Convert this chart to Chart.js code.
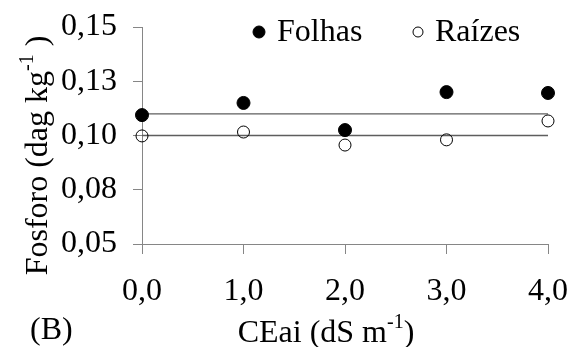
<!DOCTYPE html>
<html>
<head>
<meta charset="utf-8">
<script src="https://cdn.jsdelivr.net/npm/chart.js@4.4.1/dist/chart.umd.min.js"></script>
<style>
  body { margin: 0; background: #fff; }
  canvas { display: block; }
</style>
</head>
<body>
<canvas id="fosforoChart" width="570" height="347"></canvas>
<script>
// data
const ceai = [0, 1, 2, 3, 4];
const folhas = [0.1094, 0.1150, 0.1025, 0.1200, 0.1196];
const raizes = [0.0998, 0.1016, 0.0956, 0.0980, 0.1067];
const folhasFit = [0.110, 0.110];
const raizesFit = [0.100, 0.100];
const fitX = [0, 4];
const xTickLabels = ["0,0", "1,0", "2,0", "3,0", "4,0"];
const yTickLabels = ["0,05", "0,08", "0,10", "0,13", "0,15"];

const FONT = "'Liberation Serif', 'Times New Roman', serif";
const AXIS_GRAY = "#868686";

/* -------------------------------
   helpers
--------------------------------*/
function points(xs, ys) {
  return xs.map((x, i) => ({ x: x, y: ys[i] }));
}

// draws text pieces, some raised as superscript, centred on (0,0)
function drawRich(ctx, parts, size) {
  const supSize = Math.round(size * 0.62);
  let total = 0;
  parts.forEach(p => {
    ctx.font = (p.sup ? supSize : size) + "px " + FONT;
    p.w = ctx.measureText(p.t).width;
    total += p.w;
  });
  let x = -total / 2;
  ctx.textAlign = "left";
  ctx.textBaseline = "alphabetic";
  parts.forEach(p => {
    ctx.font = (p.sup ? supSize : size) + "px " + FONT;
    ctx.fillText(p.t, x, p.sup ? -size * 0.1 : size * 0.33);
    x += p.w;
  });
}

/* -------------------------------
   titles + legend plugin
--------------------------------*/
const decorations = {
  id: "decorations",
  afterDraw(chart) {
    const ctx = chart.ctx;
    const area = chart.chartArea;
    ctx.save();
    ctx.fillStyle = "#000";

    // y title
    ctx.save();
    ctx.translate(36, (area.top + area.bottom) / 2 + 20);
    ctx.rotate(-Math.PI / 2);
    drawRich(ctx, [
      { t: "Fosforo (dag kg" },
      { t: "-1", sup: true },
      { t: " )" }
    ], 32);
    ctx.restore();

    // x title
    ctx.save();
    ctx.translate(326, 331);
    drawRich(ctx, [
      { t: "CEai (dS m" },
      { t: "-1", sup: true },
      { t: ")" }
    ], 32);
    ctx.restore();

    // panel letter
    ctx.font = "32px " + FONT;
    ctx.textAlign = "left";
    ctx.textBaseline = "middle";
    ctx.fillText("(B)", 30, 331);

    // legend
    const items = [
      { ds: chart.data.datasets[0], mx: area.left + 117, r: 6 },
      { ds: chart.data.datasets[1], mx: area.left + 276, r: 5 }
    ];
    const ly = area.top + 5;
    items.forEach(it => {
      ctx.beginPath();
      ctx.arc(it.mx, ly, it.r, 0, Math.PI * 2);
      ctx.fillStyle = it.ds.backgroundColor;
      ctx.fill();
      ctx.lineWidth = 1;
      ctx.strokeStyle = it.ds.borderColor;
      ctx.stroke();
      ctx.fillStyle = "#000";
      ctx.font = "32px " + FONT;
      ctx.textBaseline = "middle";
      ctx.fillText(it.ds.label, it.mx + it.r + 12, ly + 1);
    });
    ctx.restore();
  }
};

/* -------------------------------
   chart
--------------------------------*/
const tickFont = { family: FONT, size: 32 };

new Chart(document.getElementById("fosforoChart"), {
  type: "scatter",
  data: {
    datasets: [
      {
        label: "Folhas",
        data: points(ceai, folhas),
        backgroundColor: "#000",
        borderColor: "#000",
        pointRadius: 6.5,
        order: 1,
        clip: false
      },
      {
        label: "Raízes",
        data: points(ceai, raizes),
        backgroundColor: "rgba(0,0,0,0)",
        borderColor: "#000",
        borderWidth: 1,
        pointRadius: 6,
        order: 1,
        clip: false
      },
      {
        type: "line",
        label: "Folhas fit",
        data: points(fitX, folhasFit),
        borderColor: "#5e5e5e",
        borderWidth: 1.3,
        pointRadius: 0,
        order: 2
      },
      {
        type: "line",
        label: "Raízes fit",
        data: points(fitX, raizesFit),
        borderColor: "#5e5e5e",
        borderWidth: 1.3,
        pointRadius: 0,
        order: 2
      }
    ]
  },
  options: {
    responsive: false,
    animation: false,
    devicePixelRatio: 1,
    layout: { padding: { left: 0, right: 22, top: 27, bottom: 0 } },
    plugins: {
      legend: { display: false },
      tooltip: { enabled: false }
    },
    scales: {
      x: {
        type: "linear",
        min: 0,
        max: 4,
        afterFit: scale => {
          scale.height = 103;
          scale.paddingLeft = 0;
          scale.paddingRight = 0;
        },
        afterBuildTicks: scale => { scale.ticks = ceai.map(v => ({ value: v })); },
        ticks: {
          callback: (v, i) => xTickLabels[i],
          font: tickFont,
          color: "#000",
          padding: 18,
          maxRotation: 0
        },
        grid: {
          drawOnChartArea: false,
          drawTicks: true,
          tickLength: 10,
          color: AXIS_GRAY
        },
        border: { display: true, color: AXIS_GRAY, width: 1 }
      },
      y: {
        min: 0.05,
        max: 0.15,
        afterFit: scale => {
          scale.width = 142;
          scale.paddingTop = 0;
          scale.paddingBottom = 0;
        },
        afterBuildTicks: scale => {
          scale.ticks = [0.05, 0.075, 0.10, 0.125, 0.15].map(v => ({ value: v }));
        },
        ticks: {
          callback: (v, i) => yTickLabels[i],
          font: tickFont,
          color: "#000",
          padding: 16
        },
        grid: {
          drawOnChartArea: false,
          drawTicks: true,
          tickLength: 9,
          color: AXIS_GRAY
        },
        border: { display: true, color: AXIS_GRAY, width: 1 }
      }
    }
  },
  plugins: [decorations]
});
</script>
</body>
</html>
